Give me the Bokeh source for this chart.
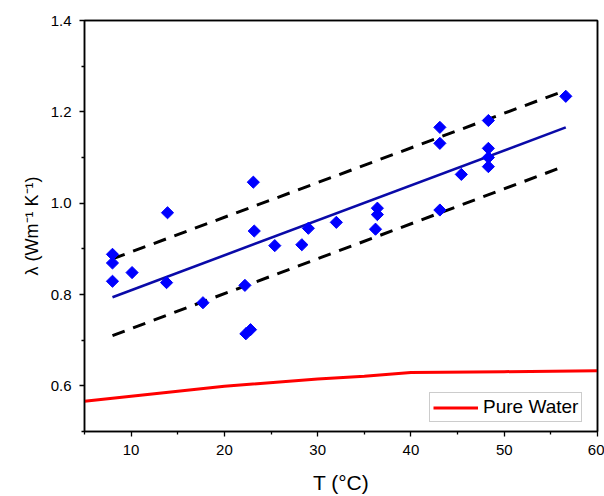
import numpy as np
from bokeh.plotting import figure
from bokeh.models import (FixedTicker, Range1d, Legend, LegendItem, LinearAxis,
                          NumeralTickFormatter)
from bokeh.embed import file_html
from bokeh.resources import INLINE

# measured data points (T in degC, lambda in W/m/K)
T_data = [8.0, 8.0, 8.0, 10.1, 13.9, 13.8, 17.7, 22.2, 22.3, 22.8, 23.1, 23.2,
          25.4, 28.3, 29.0, 32.0, 36.4, 36.4, 36.2, 43.1, 43.1, 43.1, 45.4,
          48.3, 48.3, 48.3, 48.3, 56.6]
lam_data = [0.888, 0.869, 0.829, 0.848, 0.979, 0.826, 0.782, 0.820, 0.714,
            0.723, 1.046, 0.939, 0.907, 0.909, 0.945, 0.958, 0.989, 0.975,
            0.943, 1.166, 1.131, 0.985, 1.063, 1.181, 1.120, 1.100, 1.080,
            1.234]

# fitted line and prediction band
fit_T = [8.0, 56.6]
fit_lam = [0.794, 1.166]
upper_T = [8.0, 55.8]
upper_lam = [0.878, 1.241]
lower_T = [8.0, 55.7]
lower_lam = [0.710, 1.075]

# pure water
water_T = [5, 10, 20, 30, 35, 40, 50, 60]
water_lam = [0.566, 0.577, 0.599, 0.615, 0.621, 0.629, 0.631, 0.633]

x_major = [10, 20, 30, 40, 50, 60]
x_minor = [5, 15, 25, 35, 45, 55]
y_major = [0.6, 0.8, 1.0, 1.2, 1.4]
y_minor = [0.5, 0.7, 0.9, 1.1, 1.3]

FONT = "Liberation Sans"

p = figure(width=604, height=496, x_range=Range1d(5, 60), y_range=Range1d(0.5, 1.4),
           output_backend="svg", toolbar_location=None,
           min_border_left=84, min_border_right=7, min_border_top=20,
           min_border_bottom=65)
p.grid.visible = False
p.outline_line_color = "black"
p.outline_line_width = 1.5

bottom_axis = p.below[0]
left_axis = p.left[0]

p.line(upper_T, upper_lam, line_color="black", line_width=3, line_dash="13 9")
p.line(lower_T, lower_lam, line_color="black", line_width=3, line_dash="13 9")
p.line(fit_T, fit_lam, line_color="#0A0AA8", line_width=2.6)
p.scatter(T_data, lam_data, marker="square", size=8.6, angle=np.pi / 4,
          fill_color="#0000FF", line_color="#0000FF")
water = p.line(water_T, water_lam, line_color="#FF0000", line_width=3)

# frame lines on top and right
for side in ("above", "right"):
    ax = LinearAxis(ticker=FixedTicker(ticks=[]), major_label_text_font_size="0px",
                    axis_line_color="black", axis_line_width=1.5,
                    major_tick_line_color=None, minor_tick_line_color=None,
                    major_tick_out=0, major_label_standoff=0)
    p.add_layout(ax, side)

for ax in (bottom_axis, left_axis):
    ax.axis_line_width = 1.5
    ax.axis_line_color = "black"
    ax.major_tick_line_color = "black"
    ax.minor_tick_line_color = "black"
    ax.major_tick_line_width = 1.3
    ax.minor_tick_line_width = 1.3
    ax.major_tick_in = 0
    ax.major_tick_out = 5
    ax.minor_tick_in = 0
    ax.minor_tick_out = 3
    ax.major_label_text_font = FONT
    ax.major_label_text_font_size = "15px"
    ax.major_label_text_color = "black"
    ax.major_label_standoff = 8
    ax.axis_label_text_font = FONT
    ax.axis_label_text_font_style = "normal"
    ax.axis_label_text_color = "black"

bottom_axis.ticker = FixedTicker(ticks=x_major, minor_ticks=x_minor)
left_axis.ticker = FixedTicker(ticks=y_major, minor_ticks=y_minor)
left_axis.formatter = NumeralTickFormatter(format="0.0")
left_axis.axis_label = "λ (Wm⁻¹ K⁻¹)"
left_axis.axis_label_text_font_size = "18px"
left_axis.axis_label_standoff = 6
bottom_axis.axis_label = "T (°C)"
bottom_axis.axis_label_text_font_size = "21px"
bottom_axis.axis_label_standoff = 13

legend = Legend(items=[LegendItem(label="Pure Water", renderers=[water])],
                location=(345, 9), border_line_color="#9a9a9a", border_line_width=1,
                padding=3, spacing=0, margin=0, glyph_width=45, glyph_height=21,
                label_height=21, label_standoff=5, label_text_font=FONT,
                label_text_font_size="19px", label_text_color="black")
p.add_layout(legend)

open("out.html", "w").write(file_html(p, INLINE))
